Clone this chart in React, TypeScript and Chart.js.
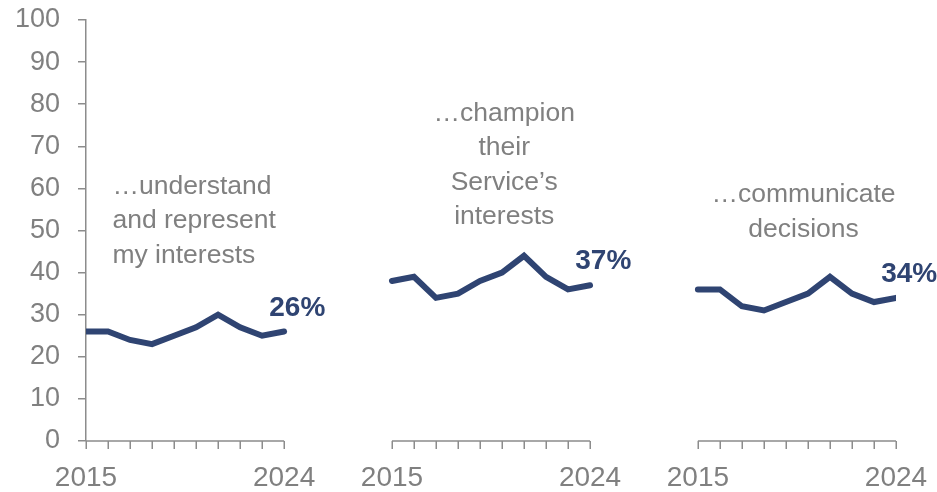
import React, { useEffect, useRef } from "react";
import { Chart, registerables } from "chart.js";

Chart.register(...registerables);

const years = ["2015", "2016", "2017", "2018", "2019", "2020", "2021", "2022", "2023", "2024"];
const understandValues = [26, 26, 24, 23, 25, 27, 30, 27, 25, 26];
const championValues = [38, 39, 34, 35, 38, 40, 44, 39, 36, 37];
const communicateValues = [36, 36, 32, 31, 33, 35, 39, 35, 33, 34];
const panelTitles = [
  ["…understand", "and represent", "my interests"],
  ["…champion", "their", "Service’s", "interests"],
  ["…communicate", "decisions"],
];
const yTicks = [0, 10, 20, 30, 40, 50, 60, 70, 80, 90, 100];

const NAVY = "#2F4472";
const GRAY = "#808080";
const AXIS = "#8C8C8C";
const PANEL_GAP = 13.9; // x-units between panel starts
const FONT = "Arial, 'Liberation Sans', sans-serif";

const seriesList = [understandValues, championValues, communicateValues];

// annotation anchors (x in year-index units within panel, y in value units)
const titleLayout = [
  { x: 1.2, y: 60.5, align: "left" as CanvasTextAlign },
  { x: 5.1, y: 77.8, align: "center" as CanvasTextAlign },
  { x: 4.8, y: 58.5, align: "center" as CanvasTextAlign },
];

export default function App() {
  const ref = useRef<HTMLCanvasElement | null>(null);

  useEffect(() => {
    if (!ref.current) return;
    const datasets = seriesList.map((vals, p) => ({
      data: vals.map((v, i) => ({ x: p * PANEL_GAP + i, y: v })),
      borderColor: NAVY,
      borderWidth: 6,
      pointRadius: 0,
      tension: 0,
      fill: false,
      borderJoinStyle: "miter" as CanvasLineJoin,
      borderCapStyle: "round" as CanvasLineCap,
    }));

    const overlay = {
      id: "overlay",
      afterDraw(chart: any) {
        const ctx = chart.ctx as CanvasRenderingContext2D;
        const xs = chart.scales.x;
        const ys = chart.scales.y;
        const y0 = ys.getPixelForValue(0);
        ctx.save();
        seriesList.forEach((vals, p) => {
          const xa = xs.getPixelForValue(p * PANEL_GAP);
          const xb = xs.getPixelForValue(p * PANEL_GAP + vals.length - 1);
          ctx.strokeStyle = AXIS;
          ctx.lineWidth = 1.5;
          ctx.beginPath();
          ctx.moveTo(xa, y0);
          ctx.lineTo(xb, y0);
          for (let i = 0; i < vals.length; i++) {
            const xp = Math.round(xs.getPixelForValue(p * PANEL_GAP + i)) + 0.25;
            ctx.moveTo(xp, y0);
            ctx.lineTo(xp, y0 + 8);
          }
          ctx.stroke();
          ctx.fillStyle = GRAY;
          ctx.font = `28px ${FONT}`;
          ctx.textAlign = "center";
          ctx.textBaseline = "middle";
          ctx.fillText(years[0], xa, y0 + 37);
          ctx.fillText(years[years.length - 1], xb, y0 + 37);

          const last = vals[vals.length - 1];
          ctx.fillStyle = NAVY;
          ctx.font = `bold 28px ${FONT}`;
          ctx.textAlign = "center";
          ctx.fillText(
            `${last}%`,
            xs.getPixelForValue(p * PANEL_GAP + 9.6),
            ys.getPixelForValue(last + 5.6)
          );

          const t = titleLayout[p];
          ctx.fillStyle = GRAY;
          ctx.font = `26.5px ${FONT}`;
          ctx.textAlign = t.align;
          const tx = xs.getPixelForValue(p * PANEL_GAP + t.x);
          const ty = ys.getPixelForValue(t.y);
          panelTitles[p].forEach((line, k) => {
            ctx.fillText(line, tx, ty + k * 34.5);
          });
        });
        ctx.restore();
      },
    };

    const chart = new Chart(ref.current, {
      type: "line",
      data: { datasets },
      options: {
        animation: false,
        responsive: false,
        maintainAspectRatio: false,
        layout: { padding: { top: 20, right: 41, bottom: 51, left: 0 } },
        plugins: { legend: { display: false }, tooltip: { enabled: false } },
        scales: {
          x: {
            type: "linear",
            min: 0,
            max: 2 * PANEL_GAP + 9,
            display: false,
          },
          y: {
            min: 0,
            max: 100,
            afterBuildTicks: (scale: any) => {
              scale.ticks = yTicks.map((v) => ({ value: v }));
            },
            afterFit: (scale: any) => {
              scale.width = 86;
              scale.paddingTop = 0;
              scale.paddingBottom = 0;
            },
            grid: {
              drawOnChartArea: false,
              drawTicks: true,
              tickLength: 8,
              color: AXIS,
              lineWidth: 1.5,
            },
            border: { display: true, color: AXIS, width: 1.5 },
            ticks: {
              color: GRAY,
              font: { family: FONT, size: 27 },
              padding: 18,
            },
          },
        },
      },
      plugins: [overlay],
    });
    return () => chart.destroy();
  }, []);

  return (
    <div style={{ position: "fixed", left: 0, top: 0, width: 937, height: 492, background: "#fff" }}>
      <canvas ref={ref} width={937} height={492} style={{ width: 937, height: 492 }} />
    </div>
  );
}
